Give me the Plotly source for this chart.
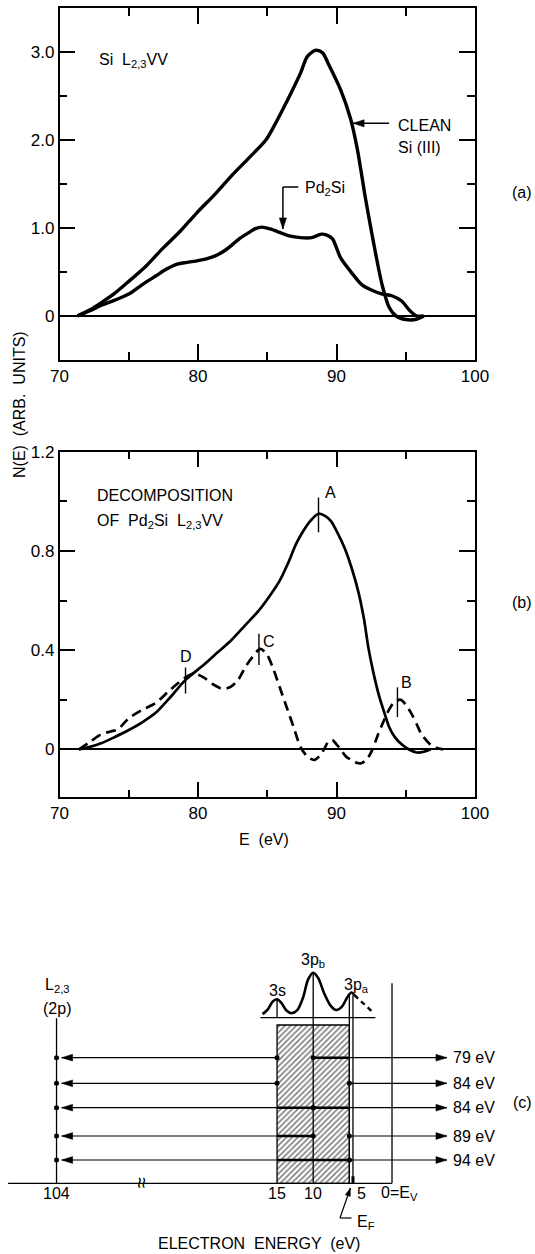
import math
import plotly.graph_objects as go

FONT = "Liberation Sans, Arial, sans-serif"
PAGE_W, PAGE_H = 535, 1254
FW, FH = PAGE_W, PAGE_H


def PX(px):  # page pixel -> paper x
    return px / FW


def PY(py):  # page pixel -> paper y
    return 1 - py / FH


# ---------------- Panel (a): Si L2,3VV spectra ----------------
a_clean_E = [71.3, 72.2, 73.0, 74.0, 74.9, 76.2, 77.4, 78.7, 79.9, 81.2, 82.4, 83.7, 84.9, 85.5,
             86.1, 86.8, 87.4, 87.9, 88.5, 89.0, 89.4, 90.3, 91.0, 91.5, 92.1, 92.8, 93.3, 93.8,
             94.3, 95.0, 95.7, 96.3]
a_clean_N = [0.0, 0.07, 0.15, 0.26, 0.38, 0.56, 0.76, 0.96, 1.17, 1.38, 1.59, 1.80, 2.0, 2.16,
             2.34, 2.56, 2.76, 2.95, 3.02, 2.99, 2.87, 2.57, 2.25, 1.9, 1.33, 0.73, 0.35, 0.10,
             0.0, -0.04, -0.04, 0.0]
a_pd_E = [71.3, 72.2, 73.0, 74.0, 75.0, 76.0, 77.0, 77.7, 78.5, 79.2, 80.0, 80.6, 81.2, 81.8,
          82.4, 83.0, 83.7, 84.1, 84.6, 85.2, 85.9, 86.6, 87.4, 88.2, 88.9, 89.3, 89.7, 90.3,
          91.1, 91.8, 92.6, 93.3, 94.0, 94.7, 95.3, 95.8, 96.3]
a_pd_N = [0.0, 0.06, 0.12, 0.18, 0.25, 0.36, 0.46, 0.53, 0.59, 0.61, 0.63, 0.65, 0.68, 0.73,
          0.80, 0.88, 0.95, 0.99, 1.01, 0.99, 0.95, 0.91, 0.89, 0.89, 0.93, 0.92, 0.88, 0.66,
          0.49, 0.36, 0.29, 0.25, 0.23, 0.17, 0.06, 0.0, 0.0]

# ---------------- Panel (b): decomposition of Pd2Si L2,3VV ----------------
b_total_E = [71.4, 72.2, 73.0, 74.0, 75.0, 76.0, 76.9, 78.0, 79.1, 80.4, 81.4, 82.4, 83.4, 84.4,
             85.2, 85.9, 86.5, 87.1, 87.6, 88.1, 88.7, 89.2, 89.6, 90.1, 90.6, 91.1, 91.6, 92.0,
             92.3, 92.7, 93.1, 93.5, 93.8, 94.2, 94.7, 95.2, 95.8, 96.3, 96.8]
b_total_N = [0.0, 0.01, 0.024, 0.05, 0.078, 0.11, 0.145, 0.21, 0.28, 0.34, 0.39, 0.44, 0.50, 0.56,
             0.62, 0.68, 0.75, 0.83, 0.88, 0.92, 0.95, 0.94, 0.92, 0.87, 0.81, 0.73, 0.63, 0.52,
             0.41, 0.30, 0.21, 0.14, 0.09, 0.05, 0.02, 0.0, -0.013, -0.01, 0.0]
b_dec_E = [71.4, 72.2, 73.0, 73.7, 74.2, 75.0, 76.0, 76.9, 78.0, 79.1, 79.7, 80.4, 81.0, 81.7,
           82.3, 82.9, 83.4, 83.9, 84.5, 85.0, 85.4, 85.9, 86.4, 86.9, 87.4, 87.9, 88.4, 88.8,
           89.1, 89.4, 89.7, 90.0, 90.3, 90.7, 91.1, 91.5, 91.8, 92.2, 92.6, 93.0, 93.3, 93.7,
           94.1, 94.6, 95.0, 95.4, 95.8, 96.1, 96.5, 96.8, 97.2, 97.7]
b_dec_N = [0.0, 0.03, 0.06, 0.072, 0.08, 0.125, 0.16, 0.185, 0.24, 0.29, 0.305, 0.29, 0.265, 0.245,
           0.25, 0.28, 0.33, 0.37, 0.405, 0.38, 0.33, 0.25, 0.17, 0.09, 0.01, -0.03, -0.043, -0.025,
           0.0, 0.03, 0.037, 0.02, 0.0, -0.03, -0.043, -0.055, -0.056, -0.04, 0.0, 0.06, 0.10, 0.15,
           0.185, 0.20, 0.18, 0.145, 0.10, 0.064, 0.035, 0.018, 0.006, 0.0]
peak_names = ["A", "B", "C", "D"]
peak_E = [88.7, 94.4, 84.4, 79.1]
peak_lo = [0.875, 0.13, 0.34, 0.225]
peak_hi = [1.015, 0.25, 0.466, 0.33]

# ---------------- Panel (c): energy-level scheme ----------------
core_level_eV = 104
core_axis_pos = 45.5          # where the broken axis places the 104 eV level
band_edges = [15, 5]
E_F = 4.5
valence_labels = ["3s", "3p<sub>b</sub>", "3p<sub>a</sub>"]
valence_E = [15, 10, 4.0]
levels_left = [15, 15, 10, 10, 5]
levels_right = [10, 5, 10, 5, 5]
kinetic_eV = [79, 84, 84, 89, 94]
dos_E = [17.0, 16.3, 15.6, 15.0, 14.4, 13.7, 13.0, 12.2, 11.4, 10.7, 10.0, 9.3, 8.5, 7.6, 6.8,
         6.0, 5.3, 4.7, 4.3]
dos_N = [0.08, 0.18, 0.36, 0.41, 0.33, 0.16, 0.10, 0.17, 0.45, 0.85, 1.0, 0.88, 0.55, 0.27, 0.17,
         0.25, 0.45, 0.56, 0.50]
dos_tail_E = [4.3, 3.0, 1.8]
dos_tail_N = [0.50, 0.30, 0.13]

# layout constants for the schematic (y in pixels above the energy axis)
ROW_Y = [125.6, 100.0, 75.6, 47.3, 23.3]
BAND_TOP = 158.3
DOS_BASE, DOS_SCALE = 165.6, 45.0
ARROW_END = -8.5

# axis geometry (page pixels)
X_L, X_R = 59.5, 475.0
A_TOP, A_BOT = 8.0, 360.0
B_TOP, B_BOT = 451.7, 797.3
C_TOP = 960.0
A_RANGE = [-0.5, 3.5]
B_RANGE = [-0.1935, 1.2]
C_XRANGE = [385.5 / 7.23, (385.5 - PAGE_W) / 7.23]
C_YRANGE = [-(PAGE_H - 1183.3), 1183.3 - C_TOP]

# pixels per data unit (screen x right, y up)
KA = ((X_R - X_L) / 30.0, (A_BOT - A_TOP) / (A_RANGE[1] - A_RANGE[0]))
KC = (-7.23, 1.0)

fig = go.Figure()


def line(xs, ys, ax, width=1.3, dash=None):
    fig.add_trace(go.Scatter(x=xs, y=ys, mode="lines", xaxis=ax[0], yaxis=ax[1],
                             line=dict(color="black", width=width, dash=dash),
                             hoverinfo="skip"))


def head(xh, yh, xt, yt, ax, k, L=10.0, w=3.2):
    """filled arrowhead with its tip at (xh, yh), pointing away from (xt, yt)."""
    dx, dy = (xh - xt) * k[0], (yh - yt) * k[1]
    n = math.hypot(dx, dy)
    ux, uy = dx / n, dy / n
    nx, ny = -uy, ux
    bx, by = -L * ux, -L * uy
    pts = [(0, 0), (bx + w * nx, by + w * ny), (bx - w * nx, by - w * ny), (0, 0)]
    fig.add_trace(go.Scatter(x=[xh + p[0] / k[0] for p in pts], y=[yh + p[1] / k[1] for p in pts],
                             mode="lines", fill="toself", fillcolor="black",
                             line=dict(color="black", width=0.5), xaxis=ax[0], yaxis=ax[1],
                             hoverinfo="skip"))


def arrow(xh, yh, xt, yt, ax, k, width=1.3, L=10.0, w=3.2):
    line([xt, xh], [yt, yh], ax, width=width)
    head(xh, yh, xt, yt, ax, k, L, w)


AXA, AXB, AXC = ("x", "y"), ("x2", "y2"), ("x3", "y3")

# ---- panel (a)
fig.add_trace(go.Scatter(x=a_clean_E, y=a_clean_N, mode="lines", xaxis="x", yaxis="y",
                         line=dict(color="black", width=3.4, shape="spline", smoothing=0.8)))
fig.add_trace(go.Scatter(x=a_pd_E, y=a_pd_N, mode="lines", xaxis="x", yaxis="y",
                         line=dict(color="black", width=3.4, shape="spline", smoothing=0.8)))
arrow(91.2, 2.19, 93.8, 2.19, AXA, KA, width=1.5, L=11, w=3.6)
line([87.24, 86.13], [1.466, 1.466], AXA, width=1.5)
arrow(86.13, 0.99, 86.13, 1.466, AXA, KA, width=1.5, L=11, w=3.6)

# ---- panel (b)
fig.add_trace(go.Scatter(x=b_total_E, y=b_total_N, mode="lines", xaxis="x2", yaxis="y2",
                         line=dict(color="black", width=2.7, shape="spline", smoothing=0.8)))
fig.add_trace(go.Scatter(x=b_dec_E, y=b_dec_N, mode="lines", xaxis="x2", yaxis="y2",
                         line=dict(color="black", width=2.7, dash="10px,6px",
                                   shape="spline", smoothing=0.8)))
for e, lo, hi in zip(peak_E, peak_lo, peak_hi):
    line([e, e], [lo, hi], AXB, width=1.4)

# ---- panel (c)
b0, b1 = band_edges
fig.add_trace(go.Scatter(x=[b0, b1, b1, b0, b0], y=[0, 0, BAND_TOP, BAND_TOP, 0], mode="lines",
                         fill="toself", fillcolor="white",
                         fillpattern=dict(shape="/", fgcolor="black", bgcolor="white",
                                          size=4, solidity=0.4),
                         line=dict(color="black", width=1.3), xaxis="x3", yaxis="y3"))
line([52.2, -0.9], [0, 0], AXC)                                  # energy axis
line([core_axis_pos, core_axis_pos], [0, 165], AXC)              # L2,3 level
line([-0.9, -0.9], [0, 200], AXC)                                # vacuum level
line([10, 10], [0, DOS_BASE + DOS_SCALE * 1.0], AXC)             # 3pb
line([b1, b1], [0, DOS_BASE + DOS_SCALE * 0.54], AXC)            # band edge / 3pa
line([E_F, E_F], [0, DOS_BASE + DOS_SCALE * 0.50], AXC)          # Fermi level
line([E_F, E_F], [0, 7], AXC, width=3)
line([15, 15], [DOS_BASE, DOS_BASE + DOS_SCALE * 0.41], AXC)     # 3s
line([17.3, 1.4], [DOS_BASE, DOS_BASE], AXC)                     # DOS baseline
fig.add_trace(go.Scatter(x=dos_E, y=[DOS_BASE + DOS_SCALE * v for v in dos_N], mode="lines",
                         xaxis="x3", yaxis="y3",
                         line=dict(color="black", width=2.6, shape="spline", smoothing=0.9)))
fig.add_trace(go.Scatter(x=dos_tail_E, y=[DOS_BASE + DOS_SCALE * v for v in dos_tail_N],
                         mode="lines", xaxis="x3", yaxis="y3",
                         line=dict(color="black", width=2.4, dash="5px,4px")))

for y, l, r in zip(ROW_Y, levels_left, levels_right):
    if l < b0:
        line([l, b0], [y, y], AXC, width=2.4)
    if r > b1:
        line([r, b1], [y, y], AXC, width=2.4)
    arrow(core_axis_pos - 0.7, y, l, y, AXC, KC, width=1.2, L=11, w=3.4)
    arrow(ARROW_END, y, r, y, AXC, KC, width=1.2, L=11, w=3.4)
dot_x, dot_y = [], []
for y, l, r in zip(ROW_Y, levels_left, levels_right):
    dot_x += [core_axis_pos, l, r]
    dot_y += [y, y, y]
fig.add_trace(go.Scatter(x=dot_x, y=dot_y, mode="markers", xaxis="x3", yaxis="y3",
                         marker=dict(color="black", size=5)))
# E_F pointer
line([6.3, 4.7], [-34.7, -34.7], AXC, width=1.2)
arrow(4.85, -4.7, 6.3, -34.7, AXC, KC, width=1.2, L=8, w=2.6)

# ---------------- annotations ----------------
ann = []


def text(x, y, s, xref, yref, size=16, xanchor="center", yanchor="middle", angle=0, **kw):
    ann.append(dict(x=x, y=y, text=s, xref=xref, yref=yref, showarrow=False,
                    font=dict(family=FONT, size=size, color="black"),
                    xanchor=xanchor, yanchor=yanchor, textangle=angle, **kw))


# panel (a)
text(72.7, 2.9, "Si  L<sub>2,3</sub>VV", "x", "y", xanchor="left")
text(94.3, 2.17, "CLEAN", "x", "y", xanchor="left")
text(94.3, 1.91, "Si (III)", "x", "y", xanchor="left")
text(87.6, 1.45, "Pd<sub>2</sub>Si", "x", "y", xanchor="left")
text(PX(522), PY(192), "(a)", "paper", "paper")

# panel (b)
text(72.58, 1.025, "DECOMPOSITION", "x2", "y2", xanchor="left")
text(72.58, 0.918, "OF  Pd<sub>2</sub>Si  L<sub>2,3</sub>VV", "x2", "y2", xanchor="left")
label_pos = {"A": (89.6, 1.035), "B": (95.05, 0.27), "C": (85.1, 0.435), "D": (79.1, 0.375)}
for n in peak_names:
    px_, py_ = label_pos[n]
    text(px_, py_, n, "x2", "y2", size=16)
text(84.8, PY(839), "E  (eV)", "x2", "paper", size=16)
text(PX(522), PY(602), "(b)", "paper", "paper")

# shared y title
text(PX(19), PY(405), "N(E)  (ARB.  UNITS)", "paper", "paper", size=16, angle=-90)

# panel (c)
for y, k in zip(ROW_Y, kinetic_eV):
    text(ARROW_END - 0.5, y, f"{k} eV", "x3", "y3", size=16, xanchor="left")
text(core_axis_pos, 198, "L<sub>2,3</sub>", "x3", "y3", size=16)
text(core_axis_pos, 175, "(2p)", "x3", "y3", size=16)
text(core_axis_pos, -10, str(core_level_eV), "x3", "y3", size=16)
text(33.7, 0, "≈", "x3", "y3", size=20, angle=90)
text(15, -10, "15", "x3", "y3", size=16)
text(10, -10, "10", "x3", "y3", size=16)
text(5, -10, "5", "x3", "y3", size=16, xanchor="left", xshift=6)
text(0, -10, "0=E<sub>V</sub>", "x3", "y3", size=16, xanchor="left", xshift=-7)
text(4.2, -38.7, "E<sub>F</sub>", "x3", "y3", size=16, xanchor="left")
peak_text_y = [193, 223, 198]
for s, e, ty in zip(valence_labels, valence_E, peak_text_y):
    text(e, ty, s, "x3", "y3", size=16)
text(PX(258.7), PY(1243), "ELECTRON  ENERGY  (eV)", "paper", "paper", size=16)
text(PX(522), PY(1102), "(c)", "paper", "paper")

# ---------------- axes ----------------
XDOM = [PX(X_L), PX(X_R)]
tickfont = dict(family=FONT, size=17, color="black")
common = dict(showline=True, linecolor="black", linewidth=1.5, mirror="ticks", ticks="inside",
              ticklen=16, tickwidth=1.5, tickcolor="black", showgrid=False, tickfont=tickfont,
              fixedrange=True, automargin=False)

xa = dict(common, range=[70, 100], tickmode="linear", tick0=70, dtick=10, domain=XDOM,
          minor=dict(ticks="inside", ticklen=8, tickwidth=1.5, tickcolor="black",
                     tickmode="array", tickvals=[75, 85, 95], showgrid=False),
          zeroline=False)

fig.update_layout(
    width=FW, height=FH, margin=dict(l=0, r=0, t=0, b=0, pad=0, autoexpand=False),
    paper_bgcolor="white", plot_bgcolor="rgba(0,0,0,0)", showlegend=False,
    font=dict(family=FONT, color="black"),
    xaxis=dict(xa, anchor="y"),
    yaxis=dict(common, range=A_RANGE, domain=[PY(A_BOT), PY(A_TOP)], anchor="x",
               tickmode="array", tickvals=[0, 1, 2, 3], ticktext=["0", "1.0", "2.0", "3.0"],
               minor=dict(ticks="inside", ticklen=8, tickwidth=1.5, tickcolor="black",
                          tickmode="array", tickvals=[0.5, 1.5, 2.5], showgrid=False),
               zeroline=True, zerolinecolor="black", zerolinewidth=1.5),
    xaxis2=dict(xa, anchor="y2"),
    yaxis2=dict(common, range=B_RANGE, domain=[PY(B_BOT), PY(B_TOP)], anchor="x2",
                tickmode="array", tickvals=[0, 0.4, 0.8, 1.2], ticktext=["0", "0.4", "0.8", "1.2"],
                minor=dict(ticks="inside", ticklen=8, tickwidth=1.5, tickcolor="black",
                           tickmode="array", tickvals=[0.2, 0.6, 1.0], showgrid=False),
                zeroline=True, zerolinecolor="black", zerolinewidth=1.5),
    xaxis3=dict(range=C_XRANGE, domain=[0, 1], anchor="y3", visible=False, fixedrange=True,
                automargin=False),
    yaxis3=dict(range=C_YRANGE, domain=[0, PY(C_TOP)], anchor="x3", visible=False,
                fixedrange=True, automargin=False),
    annotations=ann,
)

fig.write_html(
    "out.html",
    config={"displayModeBar": False},
    post_script="document.body.style.margin='0';"
                "document.documentElement.style.overflow='hidden';"
                "document.body.style.overflow='hidden';",
)
